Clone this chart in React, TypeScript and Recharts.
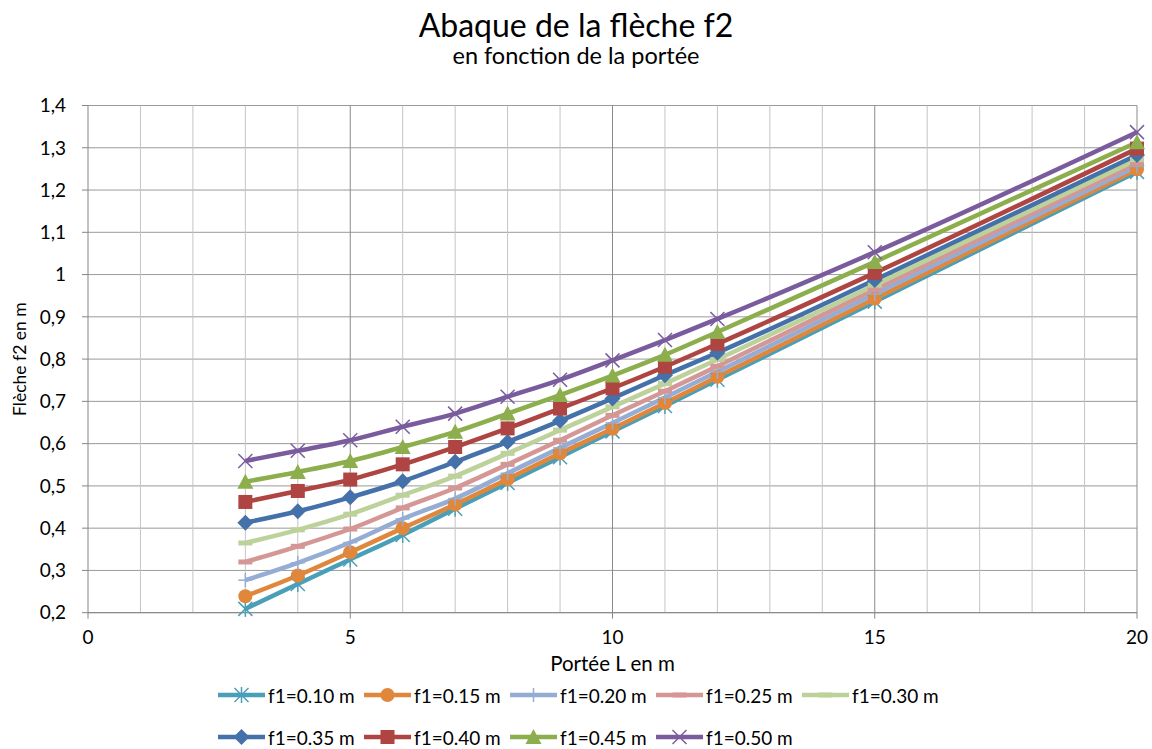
// App.tsx
// ─── Abaque de la flèche f2 en fonction de la portée ─────────────────────────

import { LineChart, Line, XAxis, YAxis, CartesianGrid, Legend } from "recharts";

// portée L (m)
const portees = [3, 4, 5, 6, 7, 8, 9, 10, 11, 12, 15, 20];

// flèche f2 (m) for each f1
const f2_010 = [0.209, 0.268, 0.326, 0.384, 0.446, 0.507, 0.568, 0.629, 0.689, 0.751, 0.936, 1.243];
const f2_015 = [0.239, 0.288, 0.343, 0.4, 0.456, 0.516, 0.577, 0.635, 0.696, 0.758, 0.943, 1.249];
const f2_020 = [0.277, 0.318, 0.366, 0.422, 0.47, 0.53, 0.59, 0.649, 0.709, 0.77, 0.954, 1.256];
const f2_025 = [0.32, 0.357, 0.398, 0.448, 0.495, 0.551, 0.608, 0.667, 0.724, 0.783, 0.965, 1.264];
const f2_030 = [0.365, 0.396, 0.433, 0.478, 0.523, 0.577, 0.632, 0.687, 0.742, 0.799, 0.975, 1.272];
const f2_035 = [0.413, 0.44, 0.473, 0.511, 0.557, 0.604, 0.654, 0.707, 0.762, 0.815, 0.987, 1.283];
const f2_040 = [0.462, 0.488, 0.515, 0.551, 0.592, 0.636, 0.683, 0.731, 0.782, 0.836, 1.004, 1.298];
const f2_045 = [0.51, 0.533, 0.559, 0.592, 0.628, 0.671, 0.715, 0.761, 0.81, 0.864, 1.03, 1.313];
const f2_050 = [0.559, 0.583, 0.608, 0.64, 0.671, 0.711, 0.751, 0.797, 0.845, 0.895, 1.053, 1.337];

const seriesNames = [
  "f1=0.10 m",
  "f1=0.15 m",
  "f1=0.20 m",
  "f1=0.25 m",
  "f1=0.30 m",
  "f1=0.35 m",
  "f1=0.40 m",
  "f1=0.45 m",
  "f1=0.50 m",
];
const seriesValues = [f2_010, f2_015, f2_020, f2_025, f2_030, f2_035, f2_040, f2_045, f2_050];

const xTicks = [0, 5, 10, 15, 20];
const xMinor = [1, 2, 3, 4, 6, 7, 8, 9, 11, 12, 13, 14, 16, 17, 18, 19];
const yTicks = [0.2, 0.3, 0.4, 0.5, 0.6, 0.7, 0.8, 0.9, 1, 1.1, 1.2, 1.3, 1.4];

type Shape = "star" | "circle" | "plus" | "dash" | "diamond" | "square" | "triangle" | "cross";

const styles: { color: string; shape: Shape }[] = [
  { color: "#4A9FB8", shape: "star" },
  { color: "#E0873C", shape: "circle" },
  { color: "#95ADD4", shape: "plus" },
  { color: "#D59795", shape: "dash" },
  { color: "#BCD29A", shape: "dash" },
  { color: "#4471A9", shape: "diamond" },
  { color: "#AE4542", shape: "square" },
  { color: "#8DAE4D", shape: "triangle" },
  { color: "#7A5C9E", shape: "cross" },
];

const data = portees.map((L, i) => {
  const row: Record<string, number> = { L };
  seriesNames.forEach((name, s) => {
    row[name] = seriesValues[s][i];
  });
  return row;
});

const FONT = "Lato, 'Open Sans', sans-serif";

function Marker({ shape, cx, cy, color }: { shape: Shape; cx: number; cy: number; color: string }) {
  const r = 7;
  switch (shape) {
    case "star":
      return (
        <g stroke={color} strokeWidth={1.5}>
          <line x1={cx - r} y1={cy - r} x2={cx + r} y2={cy + r} />
          <line x1={cx - r} y1={cy + r} x2={cx + r} y2={cy - r} />
          <line x1={cx} y1={cy - r - 1} x2={cx} y2={cy + r + 1} />
        </g>
      );
    case "cross":
      return (
        <g stroke={color} strokeWidth={1.5}>
          <line x1={cx - r} y1={cy - r} x2={cx + r} y2={cy + r} />
          <line x1={cx - r} y1={cy + r} x2={cx + r} y2={cy - r} />
        </g>
      );
    case "circle":
      return <circle cx={cx} cy={cy} r={r} fill={color} />;
    case "plus":
      return (
        <g stroke={color} strokeWidth={1.5}>
          <line x1={cx - r} y1={cy} x2={cx + r} y2={cy} />
          <line x1={cx} y1={cy - r} x2={cx} y2={cy + r} />
        </g>
      );
    case "dash":
      return <rect x={cx - r} y={cy - 2.5} width={2 * r} height={5} fill={color} />;
    case "diamond":
      return (
        <polygon
          points={`${cx},${cy - r - 1} ${cx + r + 1},${cy} ${cx},${cy + r + 1} ${cx - r - 1},${cy}`}
          fill={color}
        />
      );
    case "square":
      return <rect x={cx - r} y={cy - r} width={2 * r} height={2 * r} fill={color} />;
    case "triangle":
      return (
        <polygon points={`${cx},${cy - r - 1} ${cx + r + 1},${cy + r} ${cx - r - 1},${cy + r}`} fill={color} />
      );
  }
  return null;
}

function renderLegend() {
  return (
    <div
      style={{
        display: "flex",
        flexWrap: "wrap",
        width: 146 * 5,
        marginLeft: 218,
        fontFamily: FONT,
        fontSize: 19,
        color: "#000",
      }}
    >
      {seriesNames.map((name, s) => (
        <div key={name} style={{ width: 146, height: 42, display: "flex", alignItems: "center" }}>
          <svg width={47} height={20} style={{ flex: "none" }}>
            <line x1={0} y1={10} x2={47} y2={10} stroke={styles[s].color} strokeWidth={4.5} />
            <Marker shape={styles[s].shape} cx={23.5} cy={10} color={styles[s].color} />
          </svg>
          <span style={{ marginLeft: 3, whiteSpace: "nowrap" }}>{name}</span>
        </div>
      ))}
    </div>
  );
}

const fmtY = (v: number) => String(Number(v.toFixed(1))).replace(".", ",");

export default function App() {
  return (
    <div style={{ position: "absolute", left: 0, top: 0, width: 1152, height: 749, background: "#fff" }}>
      <LineChart
        width={1152}
        height={749}
        data={data}
        margin={{ top: 105.5, right: 15, bottom: 76, left: 0 }}
      >
        <text x={576} y={37} textAnchor="middle" fontFamily={FONT} fontSize={32} fill="#000">
          Abaque de la flèche f2
        </text>
        <text x={576} y={64} textAnchor="middle" fontFamily={FONT} fontSize={23.5} fill="#000">
          en fonction de la portée
        </text>
        <CartesianGrid vertical={false} horizontalValues={yTicks} stroke="#9a9a9a" strokeWidth={1} />
        <CartesianGrid horizontal={false} verticalValues={xMinor} stroke="#c4c4c4" strokeWidth={1} />
        <CartesianGrid horizontal={false} verticalValues={[5, 10, 15, 20]} stroke="#8a8a8a" strokeWidth={1} />
        <XAxis
          dataKey="L"
          type="number"
          domain={[0, 20]}
          ticks={xTicks}
          interval={0}
          height={60.3}
          tickSize={6}
          tickMargin={12}
          stroke="#868686"
          tick={{ fill: "#000", fontSize: 19, fontFamily: FONT }}
          label={{
            value: "Portée L en m",
            position: "insideBottom",
            offset: 2,
            fill: "#000",
            fontSize: 20.5,
            fontFamily: FONT,
          }}
        />
        <YAxis
          type="number"
          domain={[0.2, 1.4]}
          ticks={yTicks}
          interval={0}
          width={88}
          tickSize={6}
          tickMargin={16}
          stroke="#868686"
          tickFormatter={fmtY}
          tick={{ fill: "#000", fontSize: 19, fontFamily: FONT }}
          label={{
            value: "Flèche f2 en m",
            angle: -90,
            position: "insideLeft",
            offset: 20,
            style: { textAnchor: "middle" },
            fill: "#000",
            fontSize: 17.5,
            fontFamily: FONT,
          }}
        />
        <Legend
          layout="horizontal"
          verticalAlign="middle"
          align="center"
          content={renderLegend}
          wrapperStyle={{ left: 0, top: 674, width: 1152 }}
        />
        {seriesNames.map((name, s) => (
          <Line
            key={name}
            dataKey={name}
            type="monotone"
            stroke={styles[s].color}
            strokeWidth={4.5}
            isAnimationActive={false}
            activeDot={false}
            dot={(p: any) => (
              <Marker key={`${name}-${p.index}`} shape={styles[s].shape} cx={p.cx} cy={p.cy} color={styles[s].color} />
            )}
          />
        ))}
      </LineChart>
    </div>
  );
}
